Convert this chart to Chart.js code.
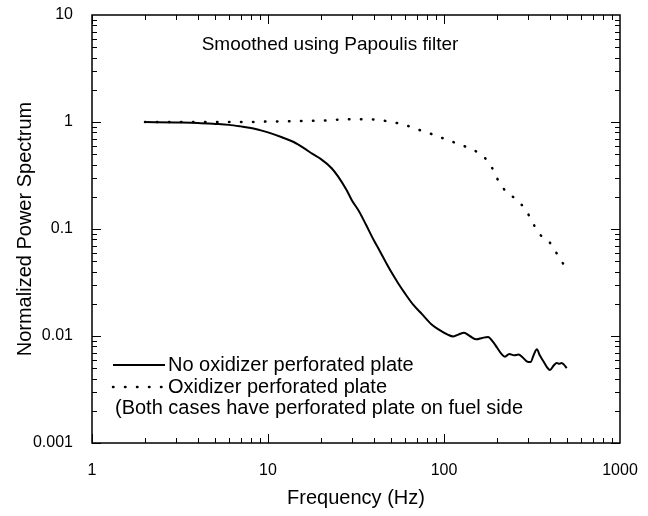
<!DOCTYPE html>
<html><head><meta charset="utf-8">
<script src="https://cdn.jsdelivr.net/npm/chart.js@4"></script>
<style>html,body{margin:0;padding:0;background:#fff}#wrap{width:648px;height:516px;position:relative}</style>
</head><body><div id="wrap"><canvas id="c" width="648" height="516"></canvas></div>
<script>
const freqNoOx = [2,3,4,5,6,7,8,9,10,12,14,16,18,20,23,25,28,30,33,36,40,43,47,50,55,60,67,75,85,95,105,113,122,130,140,153,165,178,190,200,212,222,235,250,265,280,295,310,325,337,350,367,385,400,420,437,452,466,480,498];
const psdNoOx = [1.0,0.99,0.98,0.96,0.94,0.91,0.88,0.84,0.80,0.72,0.65,0.57,0.50,0.45,0.37,0.31,0.23,0.185,0.145,0.11,0.078,0.063,0.048,0.040,0.031,0.025,0.0195,0.016,0.0128,0.0113,0.0103,0.0099,0.0104,0.0107,0.0100,0.0093,0.0096,0.0098,0.0088,0.0078,0.0068,0.0064,0.0068,0.0066,0.0067,0.0063,0.0058,0.0057,0.0068,0.0075,0.0066,0.0058,0.0051,0.0048,0.0053,0.0056,0.0055,0.0056,0.0054,0.0050];
const freqOx = [2,3,5,8,10,15,20,23,27,32,37,43,50,59,68,80,93,107,125,146,169,188,202,222,256,292,318,348,391,424,462,498];
const psdOx = [1.0,1.0,1.0,1.0,1.01,1.02,1.03,1.04,1.06,1.06,1.06,1.045,1.0,0.95,0.87,0.80,0.73,0.67,0.61,0.55,0.47,0.37,0.29,0.23,0.19,0.15,0.116,0.090,0.078,0.064,0.051,0.042];
const xTickValues = [1,10,100,1000];
const xTickLabels = ['1','10','100','1000'];
const yTickValues = [0.001,0.01,0.1,1,10];
const yTickLabels = ['0.001','0.01','0.1','1','10'];
const seriesNames = ['No oxidizer perforated plate','Oxidizer perforated plate'];
const noteText = '(Both cases have perforated plate on fuel side';
const annotationText = 'Smoothed using Papoulis filter';
const xTitle = 'Frequency (Hz)';
const yTitle = 'Normalized Power Spectrum';

const FONT = "'Liberation Sans', Arial, sans-serif";
const toPts = (xs, ys) => xs.map((v,i)=>({x:v,y:ys[i]}));

const framePlugin = {
  id:'frame',
  afterDatasetsDraw(chart){
    const {ctx, chartArea:a, scales} = chart;
    const xs = scales.x, ys = scales.y;
    ctx.save();
    ctx.strokeStyle = '#000';
    const seg = (x1,y1,x2,y2)=>{ctx.beginPath();ctx.moveTo(x1,y1);ctx.lineTo(x2,y2);ctx.stroke();};
    ctx.lineWidth = 1;
    for (let d=0; d<3; d++) for (let m=1; m<=9; m++) {
      const v = m*Math.pow(10,d);
      const px = Math.round(xs.getPixelForValue(v))+0.5;
      const len = m===1 ? 9 : 5;
      seg(px,a.bottom,px,a.bottom-len);
      seg(px,a.top,px,a.top+len);
    }
    for (let d=-3; d<1; d++) for (let m=1; m<=9; m++) {
      const v = m*Math.pow(10,d);
      const py = Math.round(ys.getPixelForValue(v))+0.5;
      const len = m===1 ? 9 : 5;
      seg(a.left,py,a.left+len,py);
      seg(a.right,py,a.right-len,py);
    }
    ctx.lineWidth = 1.5;
    ctx.strokeRect(a.left, a.top, a.right-a.left, a.bottom-a.top);

    // annotation + legend
    ctx.fillStyle = '#000';
    ctx.textBaseline = 'middle';
    ctx.textAlign = 'center';
    ctx.font = '19px ' + FONT;
    ctx.fillText(annotationText, 330, 45);
    ctx.font = '20px ' + FONT;
    ctx.textAlign = 'left';
    const ds = chart.data.datasets;
    const rows = [a.bottom-78, a.bottom-56];
    rows.forEach((ry,i)=>{
      ctx.save();
      ctx.strokeStyle = '#000';
      ctx.lineWidth = ds[i].borderWidth;
      ctx.setLineDash(ds[i].borderDash || []);
      ctx.lineCap = ds[i].borderCapStyle || 'butt';
      ctx.beginPath(); ctx.moveTo(a.left+21, ry); ctx.lineTo(a.left+73, ry); ctx.stroke();
      ctx.restore();
      ctx.fillText(ds[i].label, a.left+76, ry);
    });
    ctx.fillText(noteText, a.left+23, a.bottom-35);
    ctx.restore();
  }
};

new Chart(document.getElementById('c'), {
  type:'line',
  data:{datasets:[
    {label:seriesNames[0], data:toPts(freqNoOx, psdNoOx), borderColor:'#000', borderWidth:2, pointRadius:0, fill:false, cubicInterpolationMode:'monotone'},
    {label:seriesNames[1], data:toPts(freqOx, psdOx), borderColor:'#000', borderWidth:2.5, borderDash:[0.5,11.5], borderCapStyle:'round', pointRadius:0, fill:false, cubicInterpolationMode:'monotone'}
  ]},
  options:{
    responsive:false, animation:false, devicePixelRatio:1,
    layout:{padding:{left:0, top:15, right:28, bottom:0}},
    plugins:{legend:{display:false}, tooltip:{enabled:false}},
    scales:{
      x:{type:'logarithmic', min:1, max:1000,
        afterBuildTicks:(s)=>{s.ticks = xTickValues.map(v=>({value:v}));},
        afterFit:(s)=>{s.height = 73; s.paddingLeft = 0; s.paddingRight = 0;},
        grid:{display:false, drawTicks:false}, border:{display:false},
        ticks:{autoSkip:false, maxRotation:0, padding:18, color:'#000', font:{family:FONT, size:16},
          callback:(v)=>{const i=xTickValues.indexOf(v); return i>=0?xTickLabels[i]:'';}},
        title:{display:true, text:xTitle, color:'#000', font:{family:FONT, size:20}, padding:{top:0,bottom:6}}
      },
      y:{type:'logarithmic', min:0.001, max:10,
        afterBuildTicks:(s)=>{s.ticks = yTickValues.map(v=>({value:v}));},
        afterFit:(s)=>{s.width = 92; s.paddingTop = 0; s.paddingBottom = 0;},
        grid:{display:false, drawTicks:false}, border:{display:false},
        ticks:{autoSkip:false, padding:19, color:'#000', font:{family:FONT, size:16},
          callback:(v)=>{const i=yTickValues.indexOf(v); return i>=0?yTickLabels[i]:'';}},
        title:{display:true, text:yTitle, color:'#000', font:{family:FONT, size:20}, padding:{top:13,bottom:0}}
      }
    }
  },
  plugins:[framePlugin]
});
</script></body></html>
